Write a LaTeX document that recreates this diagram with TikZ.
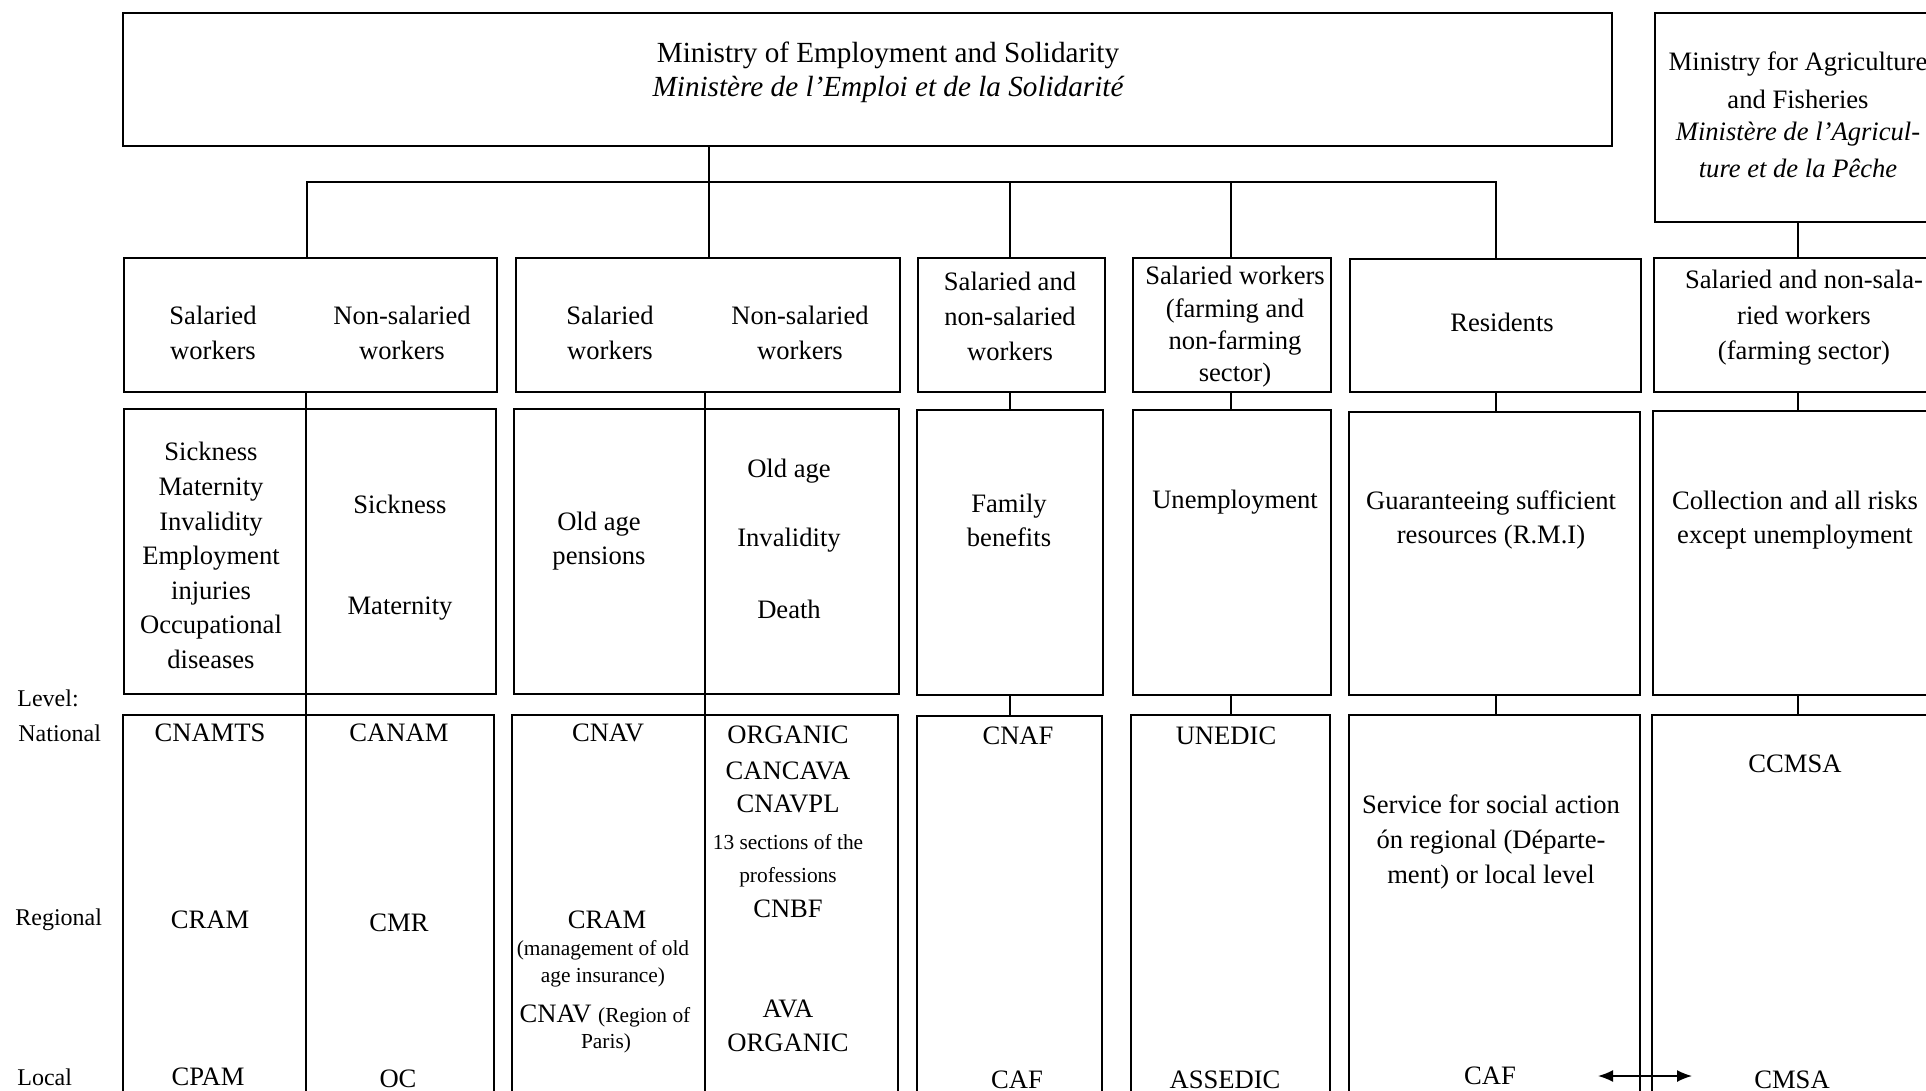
\documentclass[tikz,border=0pt]{standalone}
\usepackage{fontspec}
\setmainfont{Liberation Serif}
\usetikzlibrary{fit,arrows.meta}
\newcommand\fsz[2]{\fontsize{#1pt}{#2pt}\selectfont}
\begin{document}
\begin{tikzpicture}[x=0.5pt,y=-0.5pt,
  box/.style={draw, line width=0.8pt, inner sep=0pt},
  ln/.style={line width=0.8pt},
  txt/.style={inner sep=0pt, align=center, font=\fsz{13.3}{17.5}},
  sm/.style={inner sep=0pt, align=center, font=\fsz{10.7}{13.5}},
  lvl/.style={inner sep=0pt, anchor=west, font=\fsz{12}{14}}]
\useasboundingbox (0,0) rectangle (1926,1091);
\clip (0,0) rectangle (1926,1091);
% ---------- ministries ----------
\node[box, fit={(123,13) (1612,146)}] (min) {};
\node[txt, font=\fsz{14.6}{17}] (mint) at (888,55) {Ministry of Employment and Solidarity};
\node[txt, font=\fsz{14.6}{17}\itshape] (minf) at (888,89) {Ministère de l’Emploi et de la Solidarité};
\node[box, fit={(1655,13) (1945,222)}] (agr) {};
\node[txt] (agr1) at (1798,64) {Ministry for Agriculture};
\node[txt] (agr2) at (1798,99) {and Fisheries};
\node[txt, font=\fsz{13.3}{17}\itshape] (agr3) at (1798,134) {Ministère de l’Agricul-};
\node[txt, font=\fsz{13.3}{17}\itshape] (agr4) at (1798,168) {ture et de la Pêche};
% ---------- row 2: insured groups ----------
\node[box, fit={(124,258) (497,392)}] (h1) {};
\node[box, fit={(516,258) (900,392)}] (h2) {};
\node[box, fit={(918,258) (1105,392)}] (h3) {};
\node[box, fit={(1133,258) (1331,392)}] (h4) {};
\node[box, fit={(1350,259) (1641,392)}] (h5) {};
\node[box, fit={(1654,258) (1945,392)}] (h6) {};
\node[txt] (h1a) at (213,332.5) {Salaried\\workers};
\node[txt] (h1b) at (402,332.5) {Non-salaried\\workers};
\node[txt] (h2a) at (610,332.5) {Salaried\\workers};
\node[txt] (h2b) at (800,332.5) {Non-salaried\\workers};
\node[txt] (h3t) at (1010,316) {Salaried and\\non-salaried\\workers};
\node[txt, font=\fsz{13.3}{16.2}] (h4t) at (1235,327) {Salaried workers\\(farming and\\non-farming\\sector)};
\node[txt] (h5t) at (1502,322) {Residents};
\node[txt, font=\fsz{13.3}{17.7}] (h6t) at (1804,318) {Salaried and non-sala-\\ried workers\\(farming sector)};
% ---------- row 3: risks ----------
\node[box, fit={(124,409) (496,694)}] (r1) {};
\node[box, fit={(514,409) (899,694)}] (r2) {};
\node[box, fit={(917,410) (1103,695)}] (r3) {};
\node[box, fit={(1133,410) (1331,695)}] (r4) {};
\node[box, fit={(1349,412) (1640,695)}] (r5) {};
\node[box, fit={(1653,411) (1945,695)}] (r6) {};
\node[txt, font=\fsz{13.3}{17.3}] (r1a) at (211,555.5) {Sickness\\Maternity\\Invalidity\\Employment\\injuries\\Occupational\\diseases};
\node[txt] (r1b1) at (400,504) {Sickness};
\node[txt] (r1b2) at (400,609) {Maternity};
\node[txt, font=\fsz{13.3}{17}] (r2a) at (599,541) {Old age\\pensions};
\node[txt] (r2b1) at (789,471) {Old age};
\node[txt] (r2b2) at (789,540) {Invalidity};
\node[txt] (r2b3) at (789,609) {Death};
\node[txt, font=\fsz{13.3}{17}] (r3t) at (1009,520) {Family\\benefits};
\node[txt] (r4t) at (1235,502) {Unemployment};
\node[txt, font=\fsz{13.3}{17}] (r5t) at (1491,520) {Guaranteeing sufficient\\resources (R.M.I)};
\node[txt, font=\fsz{13.3}{17}] (r6t) at (1795,520) {Collection and all risks\\except unemployment};
% ---------- row 4: institutions ----------
\node[box, fit={(123,715) (494,1120)}] (n1) {};
\node[box, fit={(512,715) (898,1120)}] (n2) {};
\node[box, fit={(917,716) (1102,1120)}] (n3) {};
\node[box, fit={(1131,715) (1330,1120)}] (n4) {};
\node[box, fit={(1349,715) (1640,1120)}] (n5) {};
\node[box, fit={(1652,715) (1945,1120)}] (n6) {};
% level labels
\node[lvl] (lv) at (17,698) {Level:};
\node[lvl] (lvn) at (18,733) {National};
\node[lvl] (lvr) at (15,920) {Regional};
\node[lvl] (lvl) at (17,1077) {Local};
% column 1
\node[txt] (i1) at (210,733) {CNAMTS};
\node[txt] (i2) at (210,920) {CRAM};
\node[txt] (i3) at (208,1077) {CPAM};
\node[txt] (i4) at (399,733) {CANAM};
\node[txt] (i5) at (399,923) {CMR};
\node[txt] (i6) at (398,1079) {OC};
% column 2
\node[txt] (i7) at (608,733) {CNAV};
\node[txt] (i8) at (607,920) {CRAM};
\node[sm] (i9) at (603,963.5) {(management of old\\age insurance)};
\node[txt] (i10) at (605,1016) {CNAV {\fsz{10.7}{13.5}(Region of}};
\node[sm] (i11) at (606,1043) {Paris)};
\node[txt] (i12) at (788,735) {ORGANIC};
\node[txt] (i13) at (788,771) {CANCAVA};
\node[txt] (i14) at (788,804) {CNAVPL};
\node[sm] (i15) at (788,842) {13 sections of the};
\node[sm] (i16) at (788,877) {professions};
\node[txt] (i17) at (788,909) {CNBF};
\node[txt] (i18) at (788,1009) {AVA};
\node[txt] (i19) at (788,1043) {ORGANIC};
% columns 3-6
\node[txt] (i20) at (1018,736) {CNAF};
\node[txt] (i21) at (1017,1080) {CAF};
\node[txt] (i22) at (1226,736) {UNEDIC};
\node[txt] (i23) at (1225,1080) {ASSEDIC};
\node[txt] (i24) at (1491,842) {Service for social action\\ón regional (Départe-\\ment) or local level};
\node[txt] (i25) at (1490,1076) {CAF};
\node[txt] (i26) at (1795,764) {CCMSA};
\node[txt] (i27) at (1792,1080) {CMSA};
% ---------- connectors ----------
\coordinate (b1) at (307,182);
\coordinate (b2) at (709,182);
\coordinate (b3) at (1010,182);
\coordinate (b4) at (1231,182);
\coordinate (b5) at (1496,182);
\coordinate (b6) at (1798,182);
\draw[ln] (b1 |- h1.north) -- (b1) -- (b5) -- (b5 |- h5.north);
\draw[ln] (b2 |- min.south) -- (b2 |- h2.north);
\draw[ln] (b3) -- (b3 |- h3.north);
\draw[ln] (b4) -- (b4 |- h4.north);
\draw[ln] (b6 |- agr.south) -- (b6 |- h6.north);
\foreach \c/\i in {b3/3,b4/4,b5/5,b6/6}{
  \draw[ln] (\c |- h\i.south) -- (\c |- r\i.north);
  \draw[ln] (\c |- r\i.south) -- (\c |- n\i.north);
}
\coordinate (d1) at (306,1120);
\coordinate (d2) at (705,1120);
\draw[ln] (d1 |- h1.south) -- (d1);
\draw[ln] (d2 |- h2.south) -- (d2);
% double arrow between CAF and CMSA
\coordinate (arL) at (1598,1076);
\coordinate (arR) at (1692,1076);
\draw[ln, {Latex[length=7.5pt,width=6pt]}-{Latex[length=7.5pt,width=6pt]}] (arL) -- (arR);
\end{tikzpicture}
\end{document}
